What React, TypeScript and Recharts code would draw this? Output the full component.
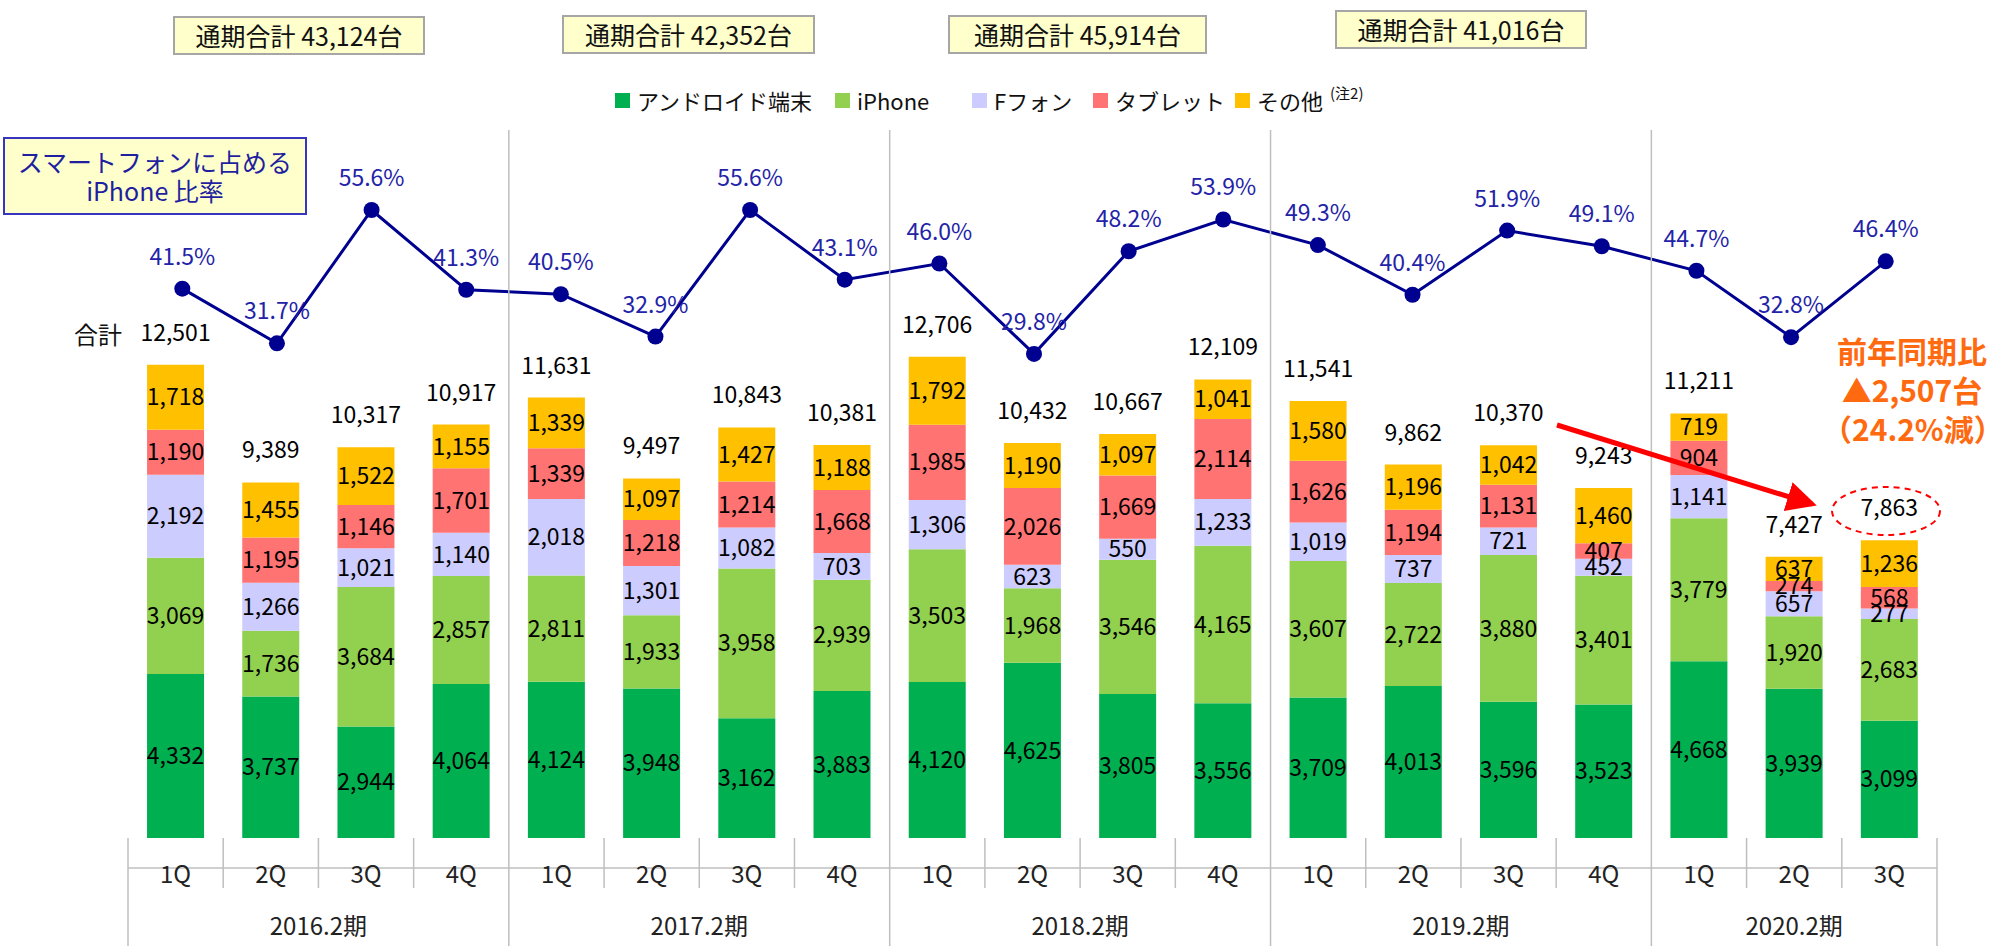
import React from "react";
import { ComposedChart, Bar, Line, XAxis, YAxis, LabelList } from "recharts";

// 四半期別 販売台数（台）
const quarters = ["1Q", "2Q", "3Q", "4Q", "1Q", "2Q", "3Q", "4Q", "1Q", "2Q", "3Q", "4Q", "1Q", "2Q", "3Q", "4Q", "1Q", "2Q", "3Q"];
const periods = ["2016.2期", "2017.2期", "2018.2期", "2019.2期", "2020.2期"];
const periodTotals = ["43,124", "42,352", "45,914", "41,016"];

const android = [4332, 3737, 2944, 4064, 4124, 3948, 3162, 3883, 4120, 4625, 3805, 3556, 3709, 4013, 3596, 3523, 4668, 3939, 3099];
const iphone = [3069, 1736, 3684, 2857, 2811, 1933, 3958, 2939, 3503, 1968, 3546, 4165, 3607, 2722, 3880, 3401, 3779, 1920, 2683];
const fphone = [2192, 1266, 1021, 1140, 2018, 1301, 1082, 703, 1306, 623, 550, 1233, 1019, 737, 721, 452, 1141, 657, 277];
const tablet = [1190, 1195, 1146, 1701, 1339, 1218, 1214, 1668, 1985, 2026, 1669, 2114, 1626, 1194, 1131, 407, 904, 274, 568];
const other = [1718, 1455, 1522, 1155, 1339, 1097, 1427, 1188, 1792, 1190, 1097, 1041, 1580, 1196, 1042, 1460, 719, 637, 1236];

// スマートフォンに占める iPhone 比率（%）
const iphoneShare = [41.5, 31.7, 55.6, 41.3, 40.5, 32.9, 55.6, 43.1, 46.0, 29.8, 48.2, 53.9, 49.3, 40.4, 51.9, 49.1, 44.7, 32.8, 46.4];

const rows = quarters.map((q, i) => ({
  key: `${i}-${q}`,
  android: android[i],
  iphone: iphone[i],
  fphone: fphone[i],
  tablet: tablet[i],
  other: other[i],
  total: android[i] + iphone[i] + fphone[i] + tablet[i] + other[i],
  share: iphoneShare[i],
}));

const W = 2006;
const H = 946;
const MARGIN = { top: 128, right: 69, bottom: 0, left: 128 };
const AXIS_H = 108;
const AXIS_TOP = H - AXIS_H;
const BAND = (W - MARGIN.left - MARGIN.right) / quarters.length;
const PLOT_H = H - MARGIN.top - AXIS_H;

const FONT = "'Noto Sans CJK JP', 'Noto Sans', sans-serif";
const GRID = "#BFBFBF";

const fmt = (v: unknown) => (typeof v === "number" ? v.toLocaleString("en-US") : String(v ?? ""));

// 2段のカテゴリ軸（四半期 / 期）を1つのtickで描く
function QuarterTick(props: any) {
  const { x, index } = props;
  const y = AXIS_TOP;
  const half = BAND / 2;
  const start = index % 4 === 0;
  const last = index === quarters.length - 1;
  const g = Math.floor(index / 4);
  const n = Math.min(4, quarters.length - g * 4);
  return (
    <g>
      <text x={x} y={y + 45} textAnchor="middle" fontSize={24} fill="#222">
        {quarters[index]}
      </text>
      <line
        x1={x - half}
        x2={x - half}
        y1={start && index > 0 ? y - PLOT_H + 2 : y}
        y2={start ? y + AXIS_H : y + 50}
        stroke={GRID}
        strokeWidth={1.5}
      />
      {last && <line x1={x + half} x2={x + half} y1={y} y2={y + AXIS_H} stroke={GRID} strokeWidth={1.5} />}
      {start && (
        <text x={x + ((n - 1) * BAND) / 2} y={y + 97} textAnchor="middle" fontSize={24} fill="#222">
          {periods[g]}
        </text>
      )}
    </g>
  );
}

const series = [
  { key: "android", name: "アンドロイド端末", color: "#00B050", legendX: 615 },
  { key: "iphone", name: "iPhone", color: "#92D050", legendX: 835 },
  { key: "fphone", name: "Fフォン", color: "#CCCCFF", legendX: 972 },
  { key: "tablet", name: "タブレット", color: "#FF7373", legendX: 1093 },
  { key: "other", name: "その他", color: "#FFC000", legendX: 1235 },
];

const totalBoxes = [
  { left: 173, top: 16, width: 252 },
  { left: 562, top: 15, width: 253 },
  { left: 948, top: 15, width: 259 },
  { left: 1335, top: 10, width: 252 },
];

export default function App() {
  return (
    <div
      style={{
        position: "absolute",
        left: 0,
        top: 0,
        width: W,
        height: H,
        background: "#fff",
        fontFamily: FONT,
        overflow: "hidden",
      }}
    >
      <ComposedChart width={W} height={H} data={rows} margin={MARGIN} barCategoryGap="20%">
        <XAxis
          xAxisId="main"
          dataKey="key"
          height={AXIS_H}
          interval={0}
          tickLine={false}
          tickSize={0}
          tickMargin={0}
          axisLine={{ stroke: GRID, strokeWidth: 1.5 }}
          tick={<QuarterTick />}
        />
        <XAxis xAxisId="line" dataKey="key" hide padding={{ left: 7, right: 4 }} />
        <YAxis yAxisId="units" hide domain={[0, 18750]} allowDataOverflow />
        <YAxis yAxisId="pct" hide orientation="right" domain={[-57, 70.3]} allowDataOverflow />
        {series.map((s) => (
          <Bar
            key={s.key}
            xAxisId="main"
            yAxisId="units"
            dataKey={s.key}
            stackId="a"
            fill={s.color}
            isAnimationActive={false}
          >
            <LabelList dataKey={s.key} position="center" fill="#000" fontSize={23} formatter={fmt} />
            {s.key === "other" && (
              <LabelList dataKey="total" position="top" offset={24} fill="#000" fontSize={23} formatter={fmt} />
            )}
          </Bar>
        ))}
        <Line
          xAxisId="line"
          yAxisId="pct"
          dataKey="share"
          stroke="#000090"
          strokeWidth={3}
          dot={{ r: 8, fill: "#000090", stroke: "#000090", strokeWidth: 0 }}
          isAnimationActive={false}
        >
          <LabelList
            dataKey="share"
            position="top"
            offset={24}
            fill="#2323A8"
            fontSize={23}
            formatter={(v: unknown) => `${Number(v).toFixed(1)}%`}
          />
        </Line>
      </ComposedChart>

      {/* 通期合計 */}
      {totalBoxes.map((b, i) => (
        <div
          key={i}
          style={{
            position: "absolute",
            left: b.left,
            top: b.top,
            width: b.width,
            height: 39,
            boxSizing: "border-box",
            border: "2px solid #A6A6A6",
            background: "#FFFFCC",
            fontSize: 25,
            lineHeight: "35px",
            textAlign: "center",
            color: "#111",
          }}
        >
          通期合計 {periodTotals[i]}台
        </div>
      ))}

      {/* 凡例 */}
      {series.map((s) => (
        <div
          key={s.key}
          style={{
            position: "absolute",
            left: s.legendX,
            top: 84,
            height: 32,
            display: "flex",
            alignItems: "center",
            fontSize: 22,
            color: "#111",
            whiteSpace: "nowrap",
          }}
        >
          <span style={{ width: 15, height: 15, background: s.color, display: "inline-block", marginRight: 7 }} />
          <span>{s.name}</span>
          {s.key === "other" && (
            <span style={{ fontSize: 15, marginLeft: 7, position: "relative", top: -8 }}>(注2)</span>
          )}
        </div>
      ))}

      {/* iPhone 比率 ラベル */}
      <div
        style={{
          position: "absolute",
          left: 3,
          top: 137,
          width: 304,
          height: 78,
          boxSizing: "border-box",
          border: "2px solid #3535C0",
          background: "#FFFFCC",
          color: "#1F1F9F",
          fontSize: 25,
          lineHeight: "29px",
          textAlign: "center",
          paddingTop: 8,
        }}
      >
        スマートフォンに占める
        <br />
        iPhone 比率
      </div>

      <div style={{ position: "absolute", left: 74, top: 316, fontSize: 24, color: "#111" }}>合計</div>

      {/* 前年同期比 */}
      <div
        style={{
          position: "absolute",
          left: 1822,
          top: 331,
          width: 180,
          textAlign: "center",
          color: "#FF6A10",
          fontWeight: 700,
          fontSize: 30,
          lineHeight: "39px",
          whiteSpace: "nowrap",
        }}
      >
        前年同期比
        <br />
        ▲2,507台
        <br />
        （24.2%減）
      </div>

      <svg width={W} height={H} style={{ position: "absolute", left: 0, top: 0, pointerEvents: "none" }}>
        <defs>
          <marker id="head" markerWidth="6" markerHeight="6" refX="5" refY="3" orient="auto" markerUnits="strokeWidth">
            <path d="M0,0 L6,3 L0,6 z" fill="#FF0000" />
          </marker>
        </defs>
        <line x1={1557} y1={425} x2={1812} y2={504} stroke="#FF0000" strokeWidth={5} markerEnd="url(#head)" />
        <ellipse cx={1886} cy={511} rx={54} ry={24} fill="none" stroke="#FF0000" strokeWidth={2} strokeDasharray="6 5" />
      </svg>
    </div>
  );
}
